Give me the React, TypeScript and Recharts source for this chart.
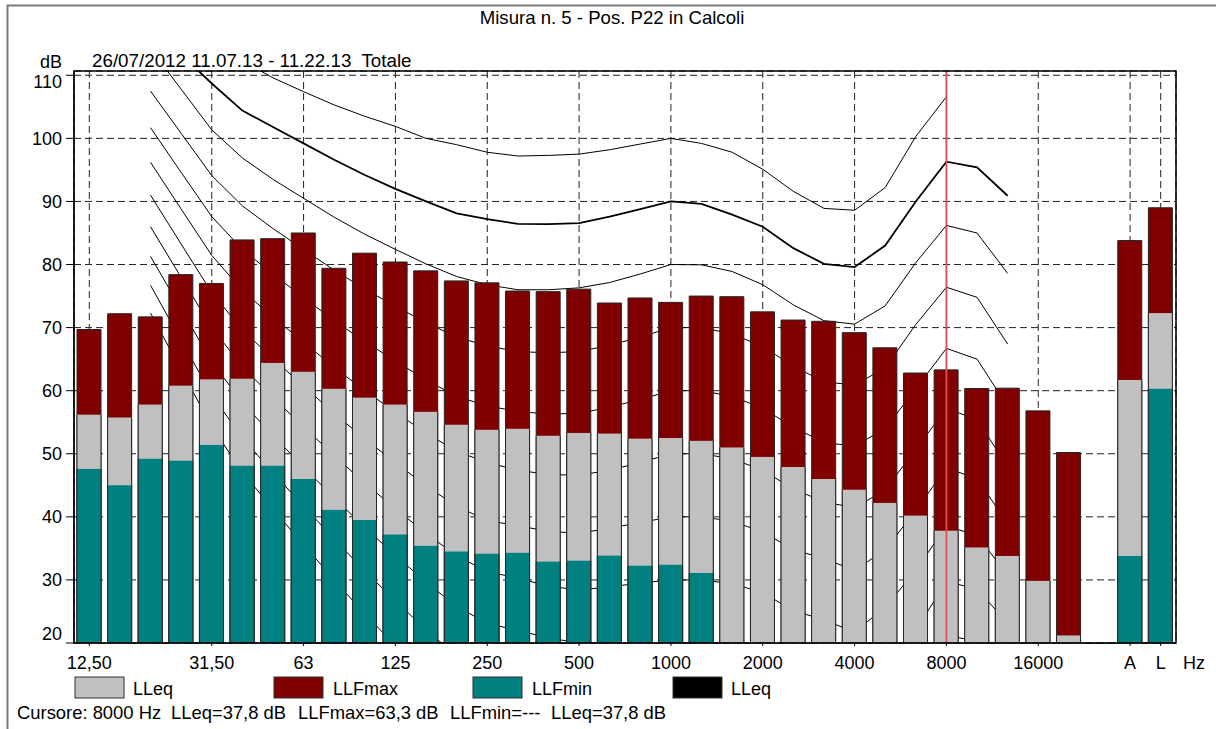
import React from "react";
import { ComposedChart, Bar, Line, XAxis, YAxis, CartesianGrid, ReferenceLine } from "recharts";

const FONT = "'Liberation Sans', Arial, sans-serif";

const BANDS = ["12,5","16","20","25","31,5","40","50","63","80","100","125","160","200","250","315","400","500","630","800","1000","1250","1600","2000","2500","3150","4000","5000","6300","8000","10000","12500","16000","20000","gap","A","L"];
const TICK_BANDS = ["12,5","31,5","63","125","250","500","1000","2000","4000","8000","16000","A","L"];
const TICK_LABELS: Record<string, string> = { "12,5": "12,50", "31,5": "31,50" };
const Y_TICKS = [20, 30, 40, 50, 60, 70, 80, 90, 100, 110];

const LLFMAX = [69.7,72.2,71.7,78.4,77.0,83.9,84.1,85.0,79.4,81.8,80.4,79.0,77.4,77.1,75.8,75.7,76.1,73.9,74.7,74.0,75.0,74.9,72.5,71.2,71.0,69.2,66.8,62.8,63.3,60.35,60.4,56.8,50.2,null,83.8,89.0];
const LLEQ = [56.2,55.75,57.8,60.8,61.8,61.9,64.4,63.0,60.3,58.9,57.8,56.65,54.6,53.8,53.96,52.85,53.3,53.2,52.4,52.5,52.05,51.0,49.5,47.9,46.0,44.3,42.2,40.2,37.8,35.15,33.8,29.85,21.2,null,61.7,72.3];
const LLFMIN = [47.6,45.0,49.2,48.9,51.4,48.1,48.1,46.0,41.1,39.5,37.2,35.4,34.5,34.15,34.3,32.9,33.05,33.85,32.25,32.4,31.1,null,null,null,null,null,null,null,null,null,null,null,null,null,33.8,60.3];

// contour curves, from 20 Hz (band index 2) to 12500 Hz (band index 30)
const CURVE_START = 2;
const C100 = [125,120,116,112.3,109.6,107.4,105.3,103.5,101.9,100.0,99.0,97.8,97.2,97.3,97.5,98.2,99.1,100,99.2,97.8,95.1,91.6,88.9,88.6,92.2,100.3,106.6,null,null];
const C90 = [119,113.3,108.7,104.4,101.8,99.2,96.6,94.2,92.0,90.0,88.1,87.2,86.45,86.4,86.55,87.6,88.8,90.0,89.6,87.9,86.0,82.6,80.1,79.6,83.0,90.0,96.3,95.4,90.9];
const C80 = [114.2,107.8,101.35,96.9,93.5,90.5,87.5,84.8,82.4,80.1,78.1,76.8,76.0,76.0,76.3,77.15,78.5,80.0,79.95,78.9,76.8,73.6,71.1,70.55,73.45,80.3,86.2,85.0,78.6];
const C70 = [107.5,100.8,94.1,89.3,85.7,82.4,79.1,76.1,73.4,70.8,68.5,67.1,66.2,66.0,66.2,67.2,68.5,70.0,70.0,69.0,67.0,63.9,61.4,60.9,63.6,70.5,76.4,74.8,67.4];
const C60 = [101.7,94.6,87.6,82.4,78.45,74.8,71.1,67.8,64.7,61.7,59.1,57.6,56.7,56.3,56.4,57.4,58.6,60.0,60.0,59.1,57.2,54.2,51.8,51.2,54.0,60.3,66.7,65.0,57.5];
const C50 = [96.2,88.8,81.45,75.9,71.65,67.7,63.7,60.0,56.6,53.3,50.4,48.6,47.4,46.7,46.6,47.4,48.6,50.0,50.0,49.2,47.4,44.4,42.4,41.4,44.3,50.7,57.2,55.4,48.0];
const C40 = [91.0,83.25,75.55,69.65,65.05,60.75,56.4,52.35,48.6,44.9,41.7,39.4,38.6,37.7,37.4,38.2,39.1,40.0,40.0,39.3,37.6,34.8,33.4,31.5,34.8,41.0,47.8,46.0,39.0];
const C30 = [86.0,77.95,70.0,63.8,58.9,54.3,49.7,45.35,41.3,37.35,33.85,31.3,30.3,29.0,28.4,28.9,29.5,30.0,30.0,29.4,28.0,25.1,23.7,21.7,25.7,31.5,38.6,37.0,30.8];
const C20 = [81.3,72.9,64.6,58.1,52.9,47.9,43.0,38.3,33.9,29.65,25.8,23.1,22.0,20.8,20.0,19.7,19.8,20.0,20.1,19.5,18.5,16.0,14.5,12.5,16.5,22.0,29.8,28.5,23.2];
const C10 = [76.7,68.0,59.35,52.5,47.0,41.7,36.5,31.4,26.7,22.1,18.0,15.5,14.0,12.5,11.5,10.8,10.3,10.0,10.0,9.5,9.0,7.0,5.5,3.5,7.5,13.0,21.2,20.3,16.5];
const C0 = [72.3,63.3,54.3,47.1,41.2,35.6,30.0,24.6,19.6,14.6,10.2,7.5,5.5,4.0,3.0,2.0,1.0,0.0,0.0,-0.5,-1.0,-3.0,-4.5,-6.0,-2.0,4.0,12.5,12.0,9.0];

const CURVES: { key: string; values: (number | null)[]; width: number }[] = [
  { key: "c100", values: C100, width: 1 },
  { key: "c90", values: C90, width: 1.8 },
  { key: "c80", values: C80, width: 1 },
  { key: "c70", values: C70, width: 1 },
  { key: "c60", values: C60, width: 1 },
  { key: "c50", values: C50, width: 1 },
  { key: "c40", values: C40, width: 1 },
  { key: "c30", values: C30, width: 1 },
  { key: "c20", values: C20, width: 1 },
  { key: "c10", values: C10, width: 1 },
  { key: "c0", values: C0, width: 1 },
];

const rows = BANDS.map((band, i) => {
  const r: Record<string, any> = { band, max: LLFMAX[i], eq: LLEQ[i], min: LLFMIN[i] };
  CURVES.forEach((c) => {
    const v = c.values[i - CURVE_START];
    r[c.key] = v === undefined ? null : v;
  });
  return r;
});

const makeShape = (fill: string, top: boolean) => (p: any) => {
  const { x, y, width, height } = p;
  if (height == null || isNaN(height) || height <= 0) return <g />;
  const d = top
    ? `M${x},${y + height}V${y}H${x + width}V${y + height}`
    : `M${x},${y + height}V${y}M${x + width},${y}V${y + height}`;
  return (
    <g>
      <rect x={x} y={y} width={width} height={height} fill={fill} />
      <path d={d} stroke="#262626" strokeWidth={1} fill="none" />
    </g>
  );
};

const YTick = (p: any) => {
  const v = p.payload.value;
  const dy = v === 110 ? 6 : v === 20 ? -9 : 0;
  return (
    <text x={62} y={p.y + dy + 6.4} textAnchor="end" fontSize={18} fontFamily={FONT} fill="#000">
      {v}
    </text>
  );
};

const XTick = (p: any) => {
  const v = p.payload.value;
  return (
    <text x={p.x} y={669} textAnchor="middle" fontSize={18} fontFamily={FONT} fill="#000">
      {TICK_LABELS[v] ?? v}
    </text>
  );
};

const LEGEND = [
  { label: "LLeq", color: "#C0C0C0", x: 75, tx: 133 },
  { label: "LLFmax", color: "#800000", x: 274, tx: 333 },
  { label: "LLFmin", color: "#008080", x: 473, tx: 532 },
  { label: "LLeq", color: "#000000", x: 673, tx: 731 },
];

const SUBTITLE = "26/07/2012 11.07.13 - 11.22.13\u00a0 Totale";
const CURSOR_PARTS = [
  { text: "Cursore: 8000 Hz", x: 17 },
  { text: "LLeq=37,8 dB", x: 171 },
  { text: "LLFmax=63,3 dB", x: 298 },
  { text: "LLFmin=---", x: 450 },
  { text: "LLeq=37,8 dB", x: 551 },
];

export default function App() {
  return (
    <div style={{ position: "absolute", left: 0, top: 0, width: 1216, height: 729, background: "#fff", overflow: "hidden" }}>
      <ComposedChart
        width={1216}
        height={729}
        data={rows}
        margin={{ top: 71, right: 40, bottom: 56, left: 0 }}
        barGap={-24}
      >
        <CartesianGrid strokeDasharray="7 4" stroke="#222" strokeWidth={1} />
        <XAxis
          dataKey="band"
          type="category"
          ticks={TICK_BANDS}
          interval={0}
          tick={<XTick />}
          tickSize={3}
          height={30}
          axisLine={{ stroke: "#000" }}
          tickLine={{ stroke: "#000" }}
        />
        <YAxis
          type="number"
          domain={[20, 110.68]}
          ticks={Y_TICKS}
          allowDataOverflow
          width={74}
          tickSize={8}
          tick={<YTick />}
          axisLine={{ stroke: "#000" }}
          tickLine={{ stroke: "#000" }}
        />
        {CURVES.map((c) => (
          <Line
            key={c.key}
            dataKey={c.key}
            type="linear"
            stroke="#000"
            strokeWidth={c.width}
            dot={false}
            activeDot={false}
            connectNulls={false}
            isAnimationActive={false}
            zIndex={250}
          />
        ))}
        <Bar dataKey="max" barSize={24} fill="#800000" shape={makeShape("#800000", true)} isAnimationActive={false} />
        <Bar dataKey="eq" barSize={24} fill="#C0C0C0" shape={makeShape("#C0C0C0", false)} isAnimationActive={false} />
        <Bar dataKey="min" barSize={24} fill="#008080" shape={makeShape("#008080", false)} isAnimationActive={false} />
        <ReferenceLine x="8000" stroke="#e25050" strokeWidth={1.8} zIndex={1100} />
      </ComposedChart>
      <svg
        width={1216}
        height={729}
        style={{ position: "absolute", left: 0, top: 0, pointerEvents: "none" }}
        fontFamily={FONT}
        fontSize={18}
      >
        <path d="M7.5,729V5.5H1216" stroke="#7a7a7a" strokeWidth={2} fill="none" />
        <rect x={74} y={71} width={1102} height={572} fill="none" stroke="#000" strokeWidth={1.5} />
        <text x={612} y={24} textAnchor="middle" fontSize={18.6}>Misura n. 5 - Pos. P22 in Calcoli</text>
        <text x={62} y={68} textAnchor="end">dB</text>
        <text x={92} y={67} fontSize={18.8}>{SUBTITLE}</text>
        <text x={1183} y={669}>Hz</text>
        {LEGEND.map((l, i) => (
          <g key={i}>
            <rect x={l.x} y={677} width={49} height={21} fill={l.color} stroke="#303030" strokeWidth={1} />
            <text x={l.tx} y={694.5}>{l.label}</text>
          </g>
        ))}
        <text y={719} fontSize={18.4}>
          {CURSOR_PARTS.map((c, i) => (
            <tspan key={i} x={c.x}>{c.text}</tspan>
          ))}
        </text>
      </svg>
    </div>
  );
}
